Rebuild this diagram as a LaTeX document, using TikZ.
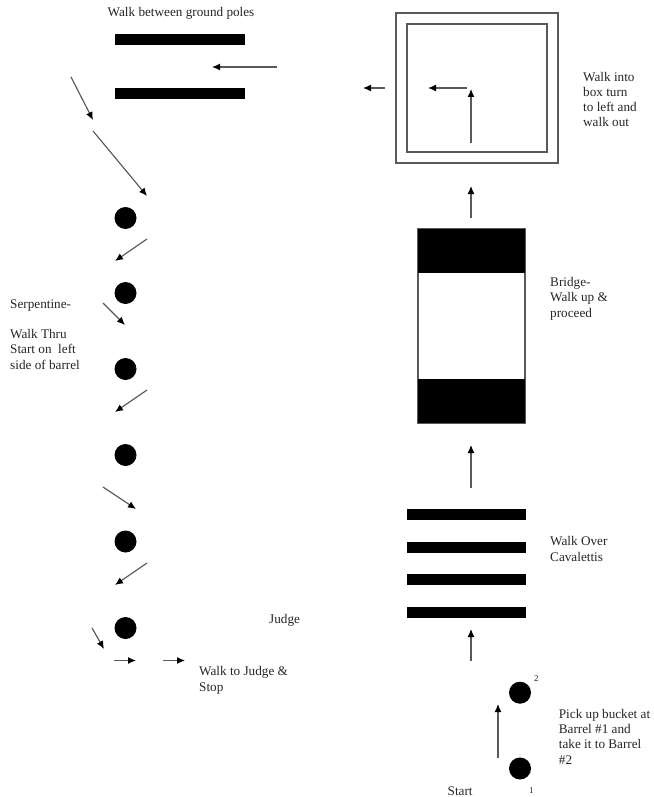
\documentclass[tikz,border=0pt]{standalone}
\usepackage{fontspec}
\setmainfont{Liberation Serif}
\usetikzlibrary{arrows.meta}
\tikzset{
  arr/.style={draw=black!65,line width=1.15pt,-{Latex[length=8pt,width=7pt,color=black]}},
  pole/.style={fill=black,draw=none},
  barrel/.style={circle,fill=black,draw=none,minimum size=22pt,inner sep=0pt},
  frame/.style={draw=black!65,line width=1.2pt,fill=white},
  lab/.style={anchor=base west,inner sep=0pt,align=left,font=\fontsize{13.2}{15.1}\selectfont,text=black!85},
}
\begin{document}
\begin{tikzpicture}[x=1pt,y=-1pt]
\useasboundingbox[fill=white] (0,0) rectangle (653,797);
% ground poles
\fill[pole] (115,34) rectangle (245,45);
\fill[pole] (115,88) rectangle (245,99);
% barrels
\node[barrel] (s1) at (125.5,218) {};
\node[barrel] (s2) at (125.5,293) {};
\node[barrel] (s3) at (125.5,369) {};
\node[barrel] (s4) at (125.5,455) {};
\node[barrel] (s5) at (125.5,541.5) {};
\node[barrel] (s6) at (125.5,628) {};
\node[barrel] (b2) at (520,692.7) {};
\node[barrel] (b1) at (520,768.5) {};
% box
\draw[frame] (396,13) rectangle (558,163);
\draw[frame] (407,24) rectangle (547,152);
% bridge
\draw[draw=black!65,line width=1.2pt,fill=white] (418,229) rectangle (525,423);
\fill[pole] (418,229) rectangle (525,272.5);
\fill[pole] (418,379) rectangle (525,423);
% cavalettis
\fill[pole] (406.5,509) rectangle (525.5,520);
\fill[pole] (406.5,541.5) rectangle (525.5,552.5);
\fill[pole] (406.5,574) rectangle (525.5,585);
\fill[pole] (406.5,607) rectangle (525.5,618);
% arrows
\draw[arr] (277,67) -- (212,67);
\draw[arr] (71,77) -- (93,120);
\draw[arr] (93,131) -- (147,196);
\draw[arr] (147,239) -- (115,261);
\draw[arr] (103,303) -- (125,325);
\draw[arr] (147,390) -- (115,412);
\draw[arr] (103,487) -- (136,509);
\draw[arr] (147,563) -- (115,585);
\draw[arr] (92,628) -- (104,649);
\draw[arr] (114,660.5) -- (136,660.5);
\draw[arr] (163,660.5) -- (185,660.5);
\draw[arr] (385,88) -- (363,88);
\draw[arr] (467,88) -- (428,88);
\draw[arr] (471,143) -- (471,89);
\draw[arr] (471,218) -- (471,186);
\draw[arr] (471,488) -- (471,445);
\draw[arr] (471,661) -- (471,629);
\draw[arr] (498,758) -- (498,704);
% labels (a multi-line node's base is its last line)
\node[lab] (t1) at (107.5,17) {Walk between ground poles};
\node[lab] (t2) at (10,308) {Serpentine-};
\node[lab] (t3) at (10,369) {Walk Thru\\Start on\ \ left\\side of barrel};
\node[lab] (t4) at (583,127) {Walk into\\box turn\\to left and\\walk out};
\node[lab] (t5) at (550,317) {Bridge-\\Walk up \&\\proceed};
\node[lab] (t6) at (550,561) {Walk Over\\Cavalettis};
\node[lab] (t7) at (269,623) {Judge};
\node[lab] (t8) at (199,691) {Walk to Judge \&\\Stop};
\node[lab] (t9) at (558.7,764) {Pick up bucket at\\Barrel \#1 and\\take it to Barrel\\\#2};
\node[lab] (t10) at (447.5,795) {Start};
\node[lab,font=\fontsize{9}{10}\selectfont] (n2) at (534,681) {2};
\node[lab,font=\fontsize{9}{10}\selectfont] (n1) at (529,793) {1};
\end{tikzpicture}
\end{document}
